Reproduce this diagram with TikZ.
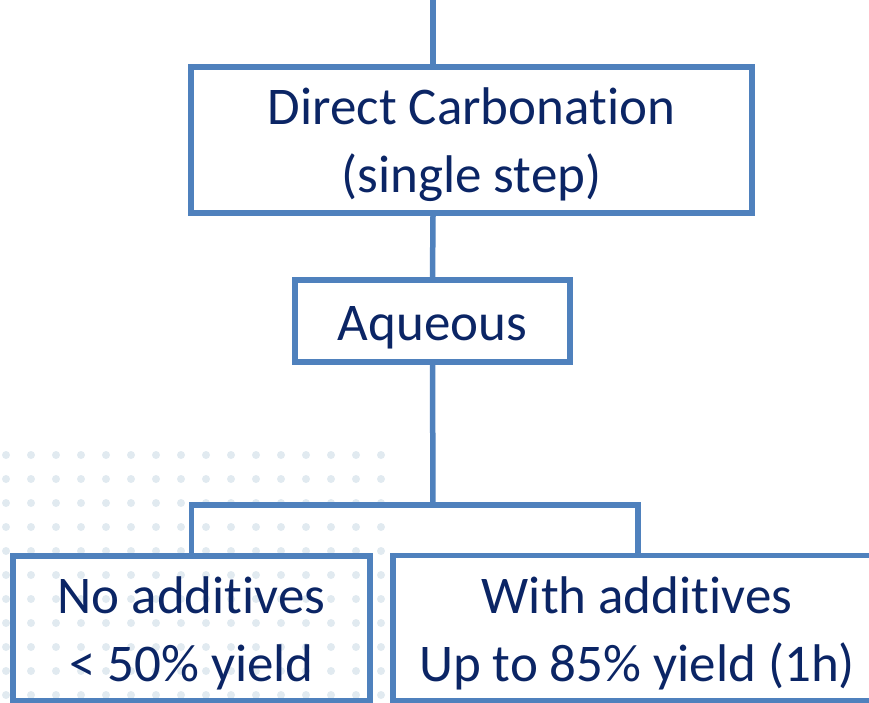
\documentclass[tikz,border=0pt]{standalone}
\usepackage{fontspec}
\setmainfont{Carlito}[Ligatures=NoCommon]
\usetikzlibrary{positioning}
\definecolor{boxblue}{HTML}{4F81BD}
\definecolor{textnavy}{HTML}{0B2565}
\definecolor{dotgrey}{HTML}{B3CADA}
\newcommand{\padtop}{\rule{0pt}{47pt}}

\begin{document}
\begin{tikzpicture}[x=1pt,y=-1pt,
    blk/.style={draw=boxblue, line width=5.5pt, text=textnavy, align=center,
                inner sep=0pt, font=\fontsize{53}{68}\selectfont},
    lnk/.style={draw=boxblue, line width=5.5pt}]
        \useasboundingbox (0,0) rectangle (869,703);
        \clip (0,0) rectangle (869,703);
        % faint dotted backdrop
        \foreach \i in {0,...,15}
          \foreach \j in {0,...,10}
            \fill[dotgrey, opacity=0.4] (\i*25+6, \j*24+455) circle (4pt);

        \node[blk, minimum width=561pt, minimum height=146pt] (carb) at (471.5, 140)
              {\padtop Direct Carbonation\\(single step)};
        \node[blk, minimum width=275pt, minimum height=82pt] (aq) at (432.5, 321)
              {\padtop Aqueous};
        \node[blk, minimum width=357pt, minimum height=145pt] (noadd) at (191.5, 628.5)
              {\padtop No additives\\\textless{} 50\% yield};
        \node[blk, minimum width=488pt, minimum height=145pt] (withadd) at (637, 628)
              {\padtop With additives\\Up to 85\% yield (1h)};

        \coordinate (top) at (433, 0);
        \coordinate (split) at (433, 505);
        \coordinate (br) at (638, 505);

        \draw[lnk] (top) -- (carb.north -| top);
        \draw[lnk] (carb.south -| top) -- (aq.north);
        \draw[lnk] (aq.south) -- (split);
        \draw[lnk] (noadd.north) |- (br) -- (withadd.north -| br);
      \end{tikzpicture}
\end{document}
